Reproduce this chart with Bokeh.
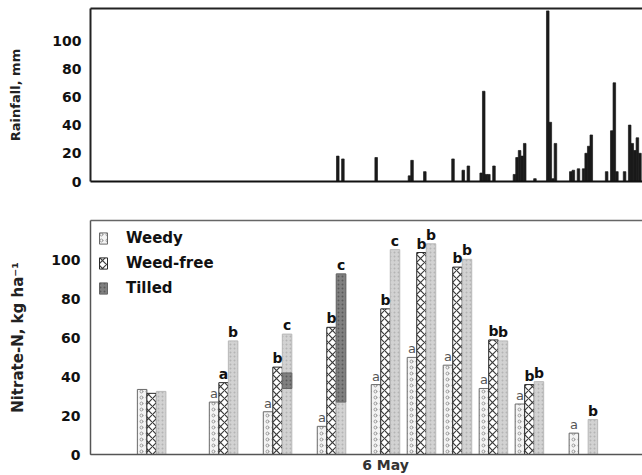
from bokeh.plotting import figure
from bokeh.layouts import column
from bokeh.models import (ColumnDataSource, FixedTicker, LinearAxis, Range1d,
                          Legend, LegendItem)
from bokeh.core.properties import value
from bokeh.embed import file_html
from bokeh.resources import INLINE

# ---------------- data ----------------
# Daily rainfall: day relative to 6 May, amount in mm
rain_day = [-19, -17, -4, 9, 10, 15, 26, 30, 32, 37, 38, 39, 40, 42,
            50, 51, 52, 53, 54, 58, 63, 64, 65, 66, 72, 73, 75, 77, 78, 79, 80,
            86, 88, 89, 90, 93, 95, 96, 97, 98, 99]
rain_mm = [18, 16, 17, 4, 15, 7, 16, 8, 11, 6, 64, 5, 5, 11,
           5, 17, 22, 18, 27, 2, 121, 42, 2, 27, 7, 8, 9, 9, 20, 25, 33,
           7, 36, 70, 7, 7, 40, 27, 22, 31, 20]

# Soil nitrate sampling dates (days relative to 6 May)
sample_day = [-91, -63, -42, -21, 0, 14, 28, 42, 56, 77]
weedy = [33.5, 27, 22, 14.5, 36, 50, 46, 34, 26, 11]
weed_free = [31.5, 37, 45, 65.5, 75, 104, 96.5, 59, 36, None]
tilled = [32.5, 58.5, 62, 93, 105.5, 108.5, 100.5, 58.5, 37.5, 18]
tilled_dark_low = [None, None, 34, 27, None, None, None, None, None, None]
tilled_dark_high = [None, None, 42, 93, None, None, None, None, None, None]
weedy_letter = ["", "a", "a", "a", "a", "a", "a", "a", "a", "a"]
weed_free_letter = ["", "a", "b", "b", "b", "b", "b", "b", "b", ""]
tilled_letter = ["", "b", "c", "c", "c", "b", "b", "b", "b", "b"]
series_names = ["Weedy", "Weed-free", "Tilled"]
tick_day = [0]
tick_label = ["6 May"]
rain_ticks = [0, 20, 40, 60, 80, 100]
no3_ticks = [0, 20, 40, 60, 80, 100]

# ---------------- layout constants ----------------
PX_PER_DAY = 2.57
DAY0_PX = 385.0          # page x of day 0
FIG_W = 642
RIGHT_PX = FIG_W         # page x of frame right edge
BAR_W = 3.7              # days
FONT = "DejaVu Sans"


def xr(left_px):
    return Range1d((left_px - DAY0_PX) / PX_PER_DAY, (RIGHT_PX - DAY0_PX) / PX_PER_DAY)


def bare_axis(ax, color, width):
    ax.ticker = FixedTicker(ticks=[])
    ax.axis_line_color = color
    ax.axis_line_width = width
    ax.major_tick_line_color = None
    ax.minor_tick_line_color = None
    ax.major_tick_out = 0
    ax.major_tick_in = 0
    ax.major_label_text_font_size = "0px"
    ax.major_label_standoff = 0


def style_y(ax, ticks, color, width, standoff):
    ax.ticker = FixedTicker(ticks=ticks)
    ax.axis_line_color = color
    ax.axis_line_width = width
    ax.major_tick_line_color = None
    ax.minor_tick_line_color = None
    ax.major_tick_out = 0
    ax.major_tick_in = 0
    ax.major_label_text_font = FONT
    ax.major_label_text_font_style = "bold"
    ax.major_label_text_font_size = "14px"
    ax.major_label_text_color = "#111111"
    ax.major_label_standoff = standoff
    ax.axis_label_text_font = FONT
    ax.axis_label_text_font_style = "bold"
    ax.axis_label_text_color = "#222222"


# ---------------- top: rainfall ----------------
p1 = figure(width=FIG_W, height=190, output_backend="svg", toolbar_location=None,
            x_range=xr(88), y_range=Range1d(0, 122.7),
            min_border_left=88, min_border_right=0, min_border_top=8,
            min_border_bottom=9, outline_line_color=None)
p1.grid.visible = False
bare_axis(p1.xaxis[0], "#111111", 2)
top1 = LinearAxis()
bare_axis(top1, "#222222", 2)
p1.add_layout(top1, "above")
style_y(p1.yaxis[0], rain_ticks, "#222222", 2, 9)
p1.yaxis[0].axis_label = "Rainfall, mm"
p1.yaxis[0].axis_label_text_font_size = "13px"
p1.yaxis[0].axis_label_standoff = 26

rain_src = ColumnDataSource(dict(x=rain_day, top=rain_mm))
p1.vbar(x="x", top="top", bottom=0, width=1.0, source=rain_src,
        fill_color="#1a1a1a", line_color="#1a1a1a", line_width=0.7)

# ---------------- bottom: nitrate ----------------
p2 = figure(width=FIG_W, height=285, output_backend="svg", toolbar_location=None,
            x_range=xr(90), y_range=Range1d(0, 120.5),
            min_border_left=90, min_border_right=0, min_border_top=30,
            min_border_bottom=18, outline_line_color=None)
p2.grid.visible = False
xa = p2.xaxis[0]
xa.ticker = FixedTicker(ticks=tick_day)
xa.major_label_overrides = {d: s for d, s in zip(tick_day, tick_label)}
xa.axis_line_color = "#555555"
xa.axis_line_width = 1.5
xa.major_tick_line_color = None
xa.minor_tick_line_color = None
xa.major_tick_out = 0
xa.major_tick_in = 0
xa.major_label_text_font = FONT
xa.major_label_text_font_style = "bold"
xa.major_label_text_font_size = "14px"
xa.major_label_text_color = "#333333"
xa.major_label_standoff = 2
top2 = LinearAxis()
bare_axis(top2, "#666666", 1.5)
p2.add_layout(top2, "above")
style_y(p2.yaxis[0], no3_ticks, "#555555", 1.5, 10)
p2.yaxis[0].axis_label = "Nitrate-N, kg ha\u207b\u00b9"
p2.yaxis[0].axis_label_text_font_size = "15px"
p2.yaxis[0].axis_label_standoff = 21


def bars(values, offset, letters):
    xs, ys, ls = [], [], []
    for d, v, l in zip(sample_day, values, letters):
        if v is None:
            continue
        xs.append(d + offset)
        ys.append(v)
        ls.append(l)
    return ColumnDataSource(dict(x=xs, top=ys, letter=ls))


src_w = bars(weedy, -BAR_W, weedy_letter)
src_f = bars(weed_free, 0.0, weed_free_letter)
src_t = bars(tilled, BAR_W, tilled_letter)

W_STYLE = dict(fill_color="#f4f4f4", hatch_pattern="ring", hatch_color="#9a9a9a",
               hatch_scale=6, hatch_weight=1, line_color="#6a6a6a", line_width=1)
F_STYLE = dict(fill_color="#ffffff", hatch_pattern="diagonal_cross", hatch_color="#3a3a3a",
               hatch_scale=8, hatch_weight=1.2, line_color="#2a2a2a", line_width=1)
T_STYLE = dict(fill_color="#d2d2d2", hatch_pattern="dot", hatch_color="#b4b4b4",
               hatch_scale=4, line_color="#b8b8b8", line_width=1)
T_DARK = dict(fill_color="#808080", hatch_pattern="dot", hatch_color="#5a5a5a",
              hatch_scale=4, line_color="#666666", line_width=1)

r_w = p2.vbar(x="x", top="top", bottom=0, width=BAR_W, source=src_w, **W_STYLE)
r_f = p2.vbar(x="x", top="top", bottom=0, width=BAR_W, source=src_f, **F_STYLE)
r_t = p2.vbar(x="x", top="top", bottom=0, width=BAR_W, source=src_t, **T_STYLE)

dk_x, dk_lo, dk_hi = [], [], []
for d, lo, hi in zip(sample_day, tilled_dark_low, tilled_dark_high):
    if lo is not None:
        dk_x.append(d + BAR_W)
        dk_lo.append(lo)
        dk_hi.append(hi)
p2.vbar(x=dk_x, bottom=dk_lo, top=dk_hi, width=BAR_W, **T_DARK)

for src, style, color, size in ((src_w, "normal", "#555555", "13px"),
                                (src_f, "bold", "#111111", "14px"),
                                (src_t, "bold", "#111111", "14px")):
    p2.text(x="x", y="top", text="letter", source=src, text_align="center",
            text_baseline="bottom", y_offset=-1, text_font=value(FONT),
            text_font_style=style, text_font_size=size, text_color=color)

# legend-only renderers (kept outside the visible x range)
leg_src = ColumnDataSource(dict(x=[-1000], top=[1]))
l_w = p2.vbar(x="x", top="top", bottom=0, width=BAR_W, source=leg_src, **W_STYLE)
l_f = p2.vbar(x="x", top="top", bottom=0, width=BAR_W, source=leg_src, **F_STYLE)
l_t = p2.vbar(x="x", top="top", bottom=0, width=BAR_W, source=leg_src, **T_DARK)

legend = Legend(items=[LegendItem(label=series_names[0], renderers=[l_w]),
                       LegendItem(label=series_names[1], renderers=[l_f]),
                       LegendItem(label=series_names[2], renderers=[l_t])],
                location="top_left", border_line_color=None, background_fill_alpha=0,
                label_text_font=FONT, label_text_font_style="bold",
                label_text_font_size="15px", label_text_color="#111111",
                glyph_width=10, glyph_height=14, label_standoff=18,
                spacing=5, padding=0, margin=8, label_height=20)
p2.add_layout(legend)

layout = column(p1, p2, spacing=0)
open("out.html", "w").write(file_html(layout, INLINE))
